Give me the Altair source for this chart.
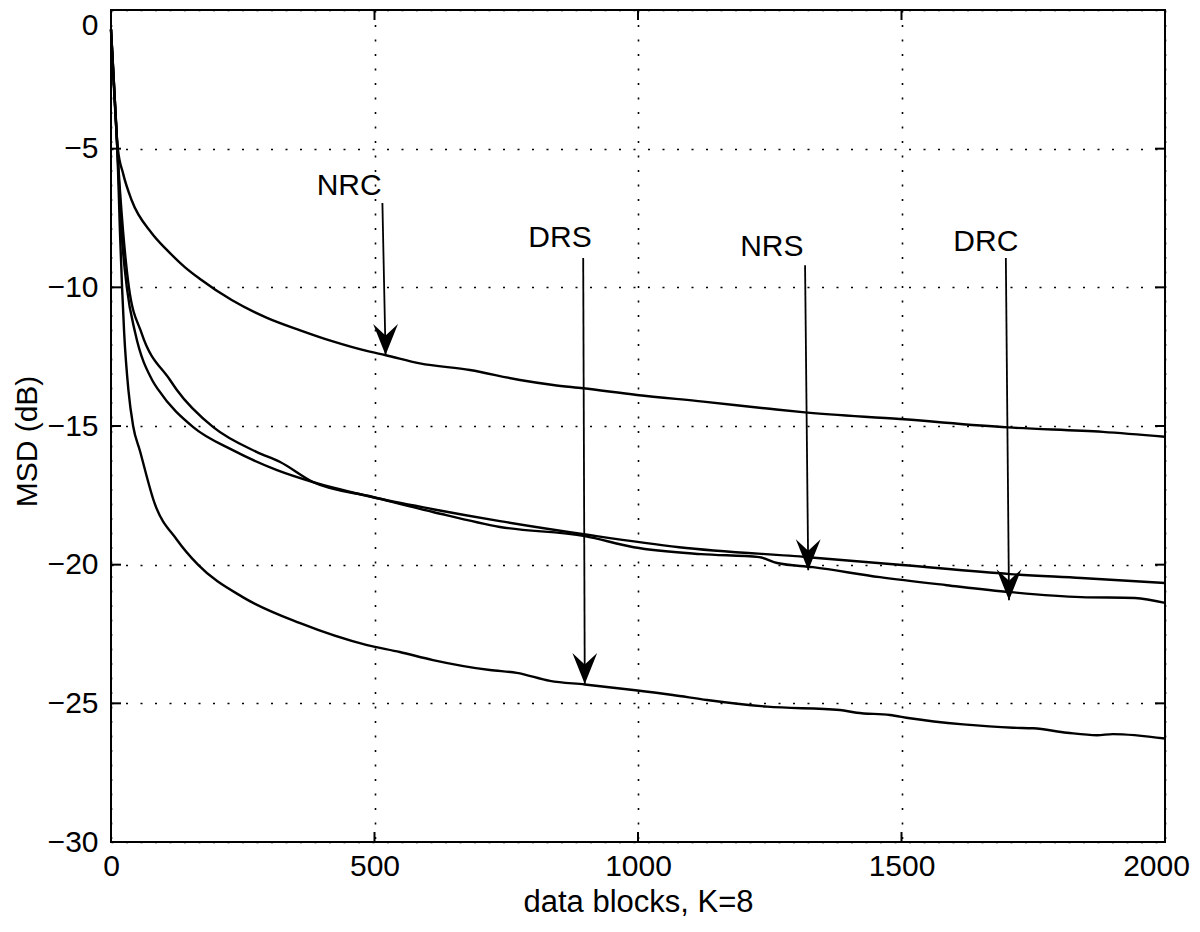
import altair as alt
import pandas as pd

# ---- data ----
nrc_k = [0, 5, 13, 23, 39, 77, 106, 140, 169, 229, 296, 359, 421, 491, 520, 586, 681, 776, 839, 896, 998, 1124, 1250, 1317, 1497, 1702, 1882, 2000]
nrc_v = [-0.7, -2.6, -5.0, -5.9, -6.85, -8.04, -8.65, -9.27, -9.7, -10.46, -11.1, -11.55, -11.95, -12.32, -12.44, -12.74, -12.98, -13.34, -13.52, -13.64, -13.88, -14.12, -14.38, -14.51, -14.75, -15.05, -15.21, -15.39]

nrs_k = [0, 6, 12, 20, 30, 46, 78, 90, 156, 231, 315, 383, 497, 611, 738, 907, 1078, 1323, 1501, 1706, 1841, 2000]
nrs_v = [-0.7, -2.8, -5.0, -8.0, -10.0, -11.65, -13.34, -13.7, -15.04, -15.87, -16.59, -17.02, -17.57, -18.0, -18.43, -18.93, -19.37, -19.73, -20.01, -20.34, -20.48, -20.66]

drc_k = [0, 6, 12, 23, 34, 58, 112, 125, 194, 277, 321, 383, 497, 611, 738, 899, 992, 1120, 1230, 1264, 1332, 1459, 1586, 1706, 1841, 1943, 2000]
drc_v = [-0.7, -2.8, -5.0, -8.0, -10.0, -11.65, -13.34, -13.7, -15.04, -15.94, -16.3, -17.02, -17.56, -18.1, -18.64, -18.97, -19.37, -19.62, -19.73, -19.94, -20.09, -20.45, -20.74, -20.99, -21.17, -21.2, -21.38]

drs_k = [0, 6, 12, 17, 21, 25, 33, 42, 55, 83, 125, 165, 250, 359, 486, 548, 611, 719, 770, 833, 899, 991, 1066, 1131, 1245, 1383, 1415, 1478, 1516, 1617, 1712, 1750, 1814, 1871, 1901, 2000]
drs_v = [-0.7, -2.8, -5.0, -8.0, -10.0, -11.65, -13.7, -15.0, -15.9, -17.8, -19.1, -20.0, -21.17, -22.11, -22.9, -23.15, -23.44, -23.8, -23.9, -24.19, -24.32, -24.52, -24.7, -24.88, -25.12, -25.24, -25.34, -25.42, -25.54, -25.76, -25.88, -25.9, -26.06, -26.15, -26.11, -26.27]

labels = ["NRC", "DRS", "NRS", "DRC"]
label_k = [452, 852, 1254, 1660]
label_v = [-6.35, -8.22, -8.55, -8.37]
arrow_k0 = [515, 896, 1317, 1698]
arrow_v0 = [-6.96, -8.94, -9.2, -8.94]
arrow_k1 = [521, 899, 1323, 1704]
arrow_v1 = [-12.44, -24.3, -20.2, -21.28]

x_ticks = [0, 500, 1000, 1500, 2000]
y_ticks = [-30, -25, -20, -15, -10, -5, 0]

# ---- tables ----
frames = []
for name, ks, vs in [("NRC", nrc_k, nrc_v), ("NRS", nrs_k, nrs_v),
                     ("DRC", drc_k, drc_v), ("DRS", drs_k, drs_v)]:
    frames.append(pd.DataFrame({"series": name, "k": ks, "msd": vs}))
curves = pd.concat(frames, ignore_index=True)

ann = pd.DataFrame({"label": labels, "tk": label_k, "tv": label_v,
                    "k0": arrow_k0, "v0": arrow_v0, "k1": arrow_k1, "v1": arrow_v1})

W, H = 1054, 832
FONT = "Liberation Sans"
xs = alt.Scale(domain=[0, 2000], nice=False, zero=False)
ys = alt.Scale(domain=[-30, 0], nice=False, zero=False)

x_axis = alt.Axis(values=x_ticks, format="d", grid=True, gridDash=[2, 12.5],
                  gridColor="black", gridWidth=1.6, gridOpacity=1, ticks=False,
                  domain=False, labelFont=FONT, labelFontSize=30, labelColor="black",
                  labelPadding=9, labelFlush=False, labelOverlap=False,
                  labelOffset=alt.condition("datum.value == 2000", alt.value(-9), alt.value(0)),
                  title="data blocks, K=8", titleFont=FONT, titleFontSize=31,
                  titleFontWeight="normal", titleColor="black", titleX=527, titleY=69,
                  titleAlign="center", titleBaseline="alphabetic")
y_axis = alt.Axis(values=y_ticks, format="d", grid=True, gridDash=[2, 12.5],
                  gridColor="black", gridWidth=1.6, gridOpacity=1, ticks=False,
                  domain=False, labelFont=FONT, labelFontSize=30, labelColor="black",
                  labelPadding=13, labelFlush=False, labelOverlap=False,
                  labelOffset=alt.condition("datum.value == 0", alt.value(15), alt.value(0)),
                  title="MSD (dB)", titleFont=FONT, titleFontSize=30,
                  titleFontWeight="normal", titleColor="black", titleX=-75, titleY=431,
                  titleAngle=-90, titleAlign="center", titleBaseline="alphabetic")

lines = alt.Chart(curves).mark_line(color="black", strokeWidth=2.4,
                                    interpolate="monotone").encode(
    x=alt.X("k:Q", scale=xs, axis=x_axis),
    y=alt.Y("msd:Q", scale=ys, axis=y_axis),
    detail="series:N",
    order="k:Q",
)

shafts = alt.Chart(ann).mark_rule(color="black", strokeWidth=1.8).encode(
    x=alt.X("k0:Q", scale=xs, axis=x_axis),
    y=alt.Y("v0:Q", scale=ys, axis=y_axis),
    x2="k1:Q",
    y2="v1:Q",
)

ARROW = "M0,0 L-0.4,-1 L0,-0.63 L0.4,-1 Z"
heads = alt.Chart(ann).mark_point(shape=ARROW, size=3844, filled=True,
                                  color="black", opacity=1, strokeWidth=0).encode(
    x=alt.X("k1:Q", scale=xs, axis=x_axis),
    y=alt.Y("v1:Q", scale=ys, axis=y_axis),
)

texts = alt.Chart(ann).mark_text(font=FONT, fontSize=30, color="black",
                                 align="center", baseline="middle").encode(
    x=alt.X("tk:Q", scale=xs, axis=x_axis),
    y=alt.Y("tv:Q", scale=ys, axis=y_axis),
    text="label:N",
)

xt = pd.DataFrame({"v": x_ticks})
yt = pd.DataFrame({"v": y_ticks})
tick_style = dict(color="black", strokeWidth=2)
bottom_ticks = alt.Chart(xt).mark_rule(**tick_style).encode(
    x=alt.X("v:Q", scale=xs, axis=x_axis), y=alt.value(H), y2=alt.value(H - 10))
top_ticks = alt.Chart(xt).mark_rule(**tick_style).encode(
    x=alt.X("v:Q", scale=xs, axis=x_axis), y=alt.value(0), y2=alt.value(10))
left_ticks = alt.Chart(yt).mark_rule(**tick_style).encode(
    y=alt.Y("v:Q", scale=ys, axis=y_axis), x=alt.value(0), x2=alt.value(10))
right_ticks = alt.Chart(yt).mark_rule(**tick_style).encode(
    y=alt.Y("v:Q", scale=ys, axis=y_axis), x=alt.value(W), x2=alt.value(W - 10))

chart = alt.layer(
    lines, bottom_ticks, top_ticks, left_ticks, right_ticks, shafts, heads, texts
).properties(
    width=W, height=H,
    autosize=alt.AutoSizeParams(type="none"),
    padding={"left": 103, "top": 2, "right": 27, "bottom": 77},
    background="white",
).configure_view(stroke="black", strokeWidth=2)

chart.save("out.html", embed_options={"renderer": "svg", "actions": False})
